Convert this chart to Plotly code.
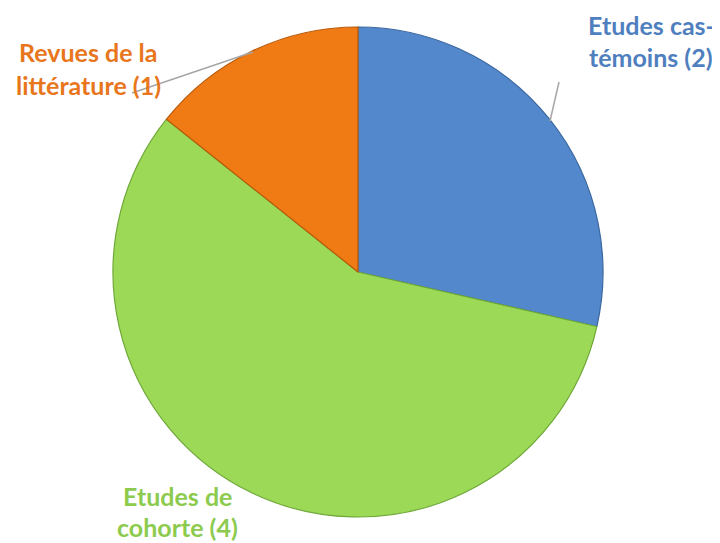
import plotly.graph_objects as go

categories = ["Etudes cas-témoins", "Etudes de cohorte", "Revues de la littérature"]
values = [2, 4, 1]
colors = ["#5389CC", "#9CD957", "#F07A14"]
edge_colors = ["#3A679E", "#6FA838", "#B85A0A"]
label_lines = [["Etudes cas-", "témoins (2)"], ["Etudes de", "cohorte (4)"], ["Revues de la", "littérature (1)"]]
label_colors = ["#4F7FBE", "#8DCB4F", "#E8761C"]

OFF = 8  # page body margin
W, H = 720 - OFF, 543 - OFF
cx, cy, r = 358 - OFF, 272 - OFF, 245


def px(x):
    return (x - OFF) / W


def py(y):
    return 1 - (y - OFF) / H


fig = go.Figure(go.Pie(
    labels=categories, values=values, sort=False, direction="clockwise", rotation=0,
    marker=dict(colors=colors, line=dict(color=edge_colors, width=1.2)),
    textinfo="none", hoverinfo="label+value", showlegend=False,
    domain=dict(x=[(cx - r) / W, (cx + r) / W], y=[1 - (cy + r) / H, 1 - (cy - r) / H]),
))

label_pos = [(651, [25, 57]), (177, [496, 527]), (88, [52, 85])]
anns = []
for lines, col, (x, ys) in zip(label_lines, label_colors, label_pos):
    for t, y in zip(lines, ys):
        anns.append(dict(x=px(x), y=py(y), xref="paper", yref="paper", text="<b>" + t + "</b>", showarrow=False,
                         font=dict(family="Lato, Open Sans, sans-serif", size=25, color=col),
                         xanchor="center", yanchor="middle"))

leader = [((559, 82), (550, 121)), ((132, 93), (253, 52))]
shapes = [dict(type="line", xref="paper", yref="paper", x0=px(a[0]), y0=py(a[1]), x1=px(b[0]), y1=py(b[1]),
               line=dict(color="#A6A6A6", width=1.5)) for a, b in leader]

fig.update_layout(width=W, height=H, margin=dict(l=0, r=0, t=0, b=0), paper_bgcolor="white",
                  plot_bgcolor="white", annotations=anns, shapes=shapes)
fig.write_html("out.html")
